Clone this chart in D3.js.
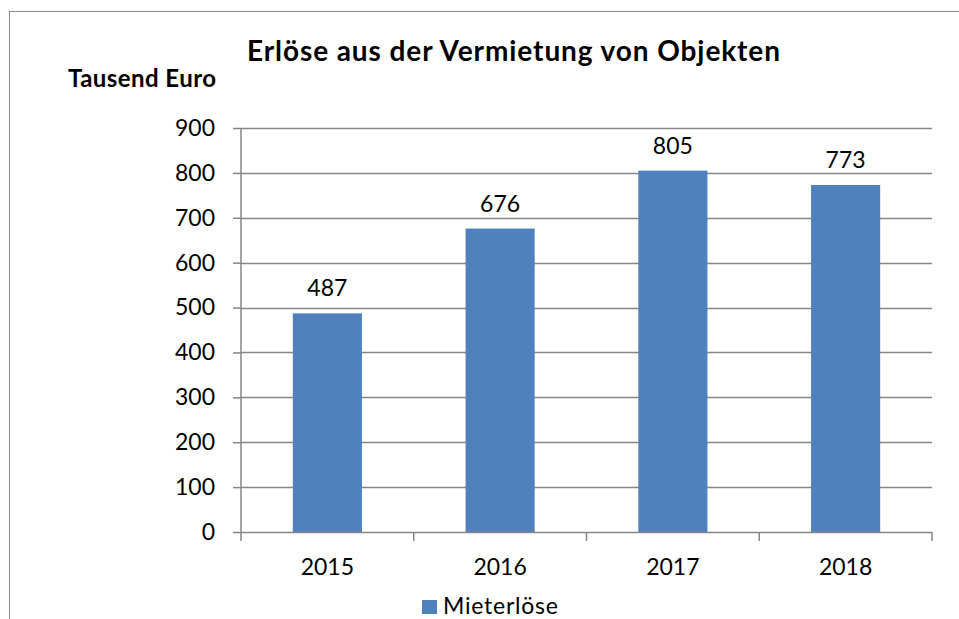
<!DOCTYPE html>
<html><head><meta charset="utf-8">
<script src="https://cdn.jsdelivr.net/npm/d3@7"></script>
<style>body{margin:0;background:#fff}svg{display:block}</style>
</head><body>
<script>
const categories = ["2015", "2016", "2017", "2018"];
const values = [487, 676, 805, 773];
const yTicks = [0, 100, 200, 300, 400, 500, 600, 700, 800, 900];
const seriesName = "Mieterlöse";
const titleText = "Erlöse aus der Vermietung von Objekten";
const yUnit = "Tausend Euro";

const W = 959, H = 619;
const font = "Lato, 'Open Sans', sans-serif";
const svg = d3.select("body").append("svg").attr("width", W).attr("height", H);

// outer frame
svg.append("rect").attr("x", 9.5).attr("y", 11.5).attr("width", 960).attr("height", 620)
  .attr("fill", "#fff").attr("stroke", "#8c8c8c").attr("stroke-width", 1);

const pL = 241, pR = 932, pT = 128, pB = 532;
const x = d3.scaleBand().domain(categories).range([pL, pR]).paddingInner(0.6).paddingOuter(0.3);
const xb = d3.scaleBand().domain(categories).range([pL, pR]);
const y = d3.scaleLinear().domain([0, 900]).range([pB, pT]);

// gridlines
svg.append("g").selectAll("line").data(yTicks.filter(d => d > 0)).join("line")
  .attr("x1", pL).attr("x2", pR)
  .attr("y1", d => Math.round(y(d)) + 0.5).attr("y2", d => Math.round(y(d)) + 0.5)
  .attr("stroke", "#868686").attr("stroke-width", 1.5);

// bars
svg.append("g").selectAll("rect").data(values).join("rect")
  .attr("x", (d, i) => x(categories[i]))
  .attr("width", x.bandwidth())
  .attr("y", d => y(d))
  .attr("height", d => y(0) - y(d))
  .attr("fill", "#4F81BD");

// y axis
const yAxis = d3.axisLeft(y).tickValues(yTicks).tickSize(8).tickPadding(18);
const gy = svg.append("g").attr("transform", `translate(${pL},0)`).call(yAxis);
gy.select(".domain").attr("stroke", "#868686").attr("stroke-width", 1.5).attr("d", `M0,${pT}V${pB}`);
gy.selectAll(".tick line").attr("stroke", "#868686").attr("stroke-width", 1.5);
gy.selectAll("text").attr("font-family", font).attr("font-size", 23).attr("fill", "#000");

// x axis
const gx = svg.append("g").attr("transform", `translate(0,${pB})`);
gx.append("line").attr("x1", pL).attr("x2", pR).attr("y1", 0.5).attr("y2", 0.5)
  .attr("stroke", "#868686").attr("stroke-width", 1.5);
const bounds = categories.map(c => xb(c)).concat([pR]);
gx.selectAll("line.t").data(bounds).join("line").attr("class", "t")
  .attr("x1", d => d).attr("x2", d => d).attr("y1", 0).attr("y2", 9)
  .attr("stroke", "#868686").attr("stroke-width", 1.5);
gx.selectAll("text").data(categories).join("text")
  .attr("x", d => xb(d) + xb.bandwidth() / 2).attr("y", 43)
  .attr("text-anchor", "middle").attr("font-family", font).attr("font-size", 23).text(d => d);

// value labels
svg.append("g").selectAll("text").data(values).join("text")
  .attr("x", (d, i) => x(categories[i]) + x.bandwidth() / 2)
  .attr("y", d => y(d) - 17)
  .attr("text-anchor", "middle").attr("font-family", font).attr("font-size", 23).text(d => d);

// title
svg.append("text").attr("x", 513.5).attr("y", 61).attr("text-anchor", "middle")
  .attr("font-family", font).attr("font-weight", "bold").attr("font-size", 28)
  .attr("textLength", 533).attr("lengthAdjust", "spacing").text(titleText);
svg.append("text").attr("x", 142).attr("y", 87).attr("text-anchor", "middle")
  .attr("font-family", font).attr("font-weight", "bold").attr("font-size", 24)
  .attr("textLength", 148).attr("lengthAdjust", "spacing").text(yUnit);

// legend
const lg = svg.append("g");
lg.append("rect").attr("x", 422).attr("y", 600).attr("width", 15).attr("height", 14).attr("fill", "#4F81BD");
lg.append("text").attr("x", 443).attr("y", 614).attr("font-family", font).attr("font-size", 23)
  .attr("textLength", 115).attr("lengthAdjust", "spacing").text(seriesName);
</script>
</body></html>
